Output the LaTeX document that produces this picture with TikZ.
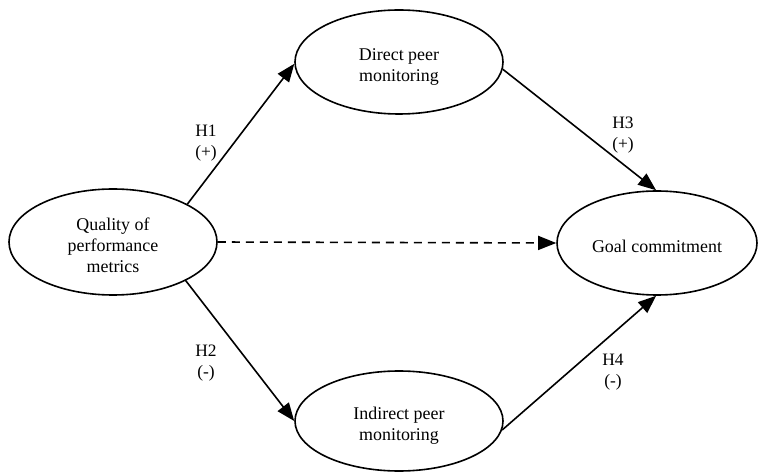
\documentclass[tikz,border=0pt]{standalone}
\usepackage{fontspec}
\setmainfont{Liberation Serif}
\usetikzlibrary{shapes.geometric,arrows.meta}
\newcommand\boxtext[1]{\raisebox{-5bp}[\height][\depth]{\begin{tabular}{@{}c@{}}#1\end{tabular}}}
\tikzset{
  construct/.style={draw=black, line width=1.6bp, ellipse, inner sep=0pt, align=center,
    font=\fontsize{18}{21}\selectfont},
  path/.style={line width=1.6bp, -{Triangle[length=18bp,width=14bp]}},
  hyp/.style={align=center, inner sep=0pt, font=\fontsize{17.5}{21}\selectfont}
}
\begin{document}
\begin{tikzpicture}[x=1bp,y=-1bp]
\useasboundingbox (0,0) rectangle (759,473);
\node[construct, minimum width=208bp, minimum height=106bp] (q) at (113,242) {\boxtext{Quality of\\performance\\metrics}};
\node[construct, minimum width=208bp, minimum height=104bp] (d) at (399,62) {\boxtext{Direct peer\\monitoring}};
\node[construct, minimum width=208bp, minimum height=100bp] (i) at (399,421) {\boxtext{Indirect peer\\monitoring}};
\node[construct, minimum width=200bp, minimum height=104bp] (g) at (657,243) {\boxtext{Goal commitment}};
\draw[path] (q.27) -- (d.181);
\draw[path] (q.-28) -- (i.180);
\draw[path] (d.-4) -- (g.91);
\draw[path] (i.-5) -- (g.269);
\draw[path, dash pattern=on 8bp off 6bp] (q.east) -- (g.west);
\node[hyp] (h1) at (206,143) {H1\\(+)};
\node[hyp] (h2) at (206,363) {H2\\(-)};
\node[hyp] (h3) at (623,135) {H3\\(+)};
\node[hyp] (h4) at (613,372) {H4\\(-)};
\end{tikzpicture}
\end{document}
